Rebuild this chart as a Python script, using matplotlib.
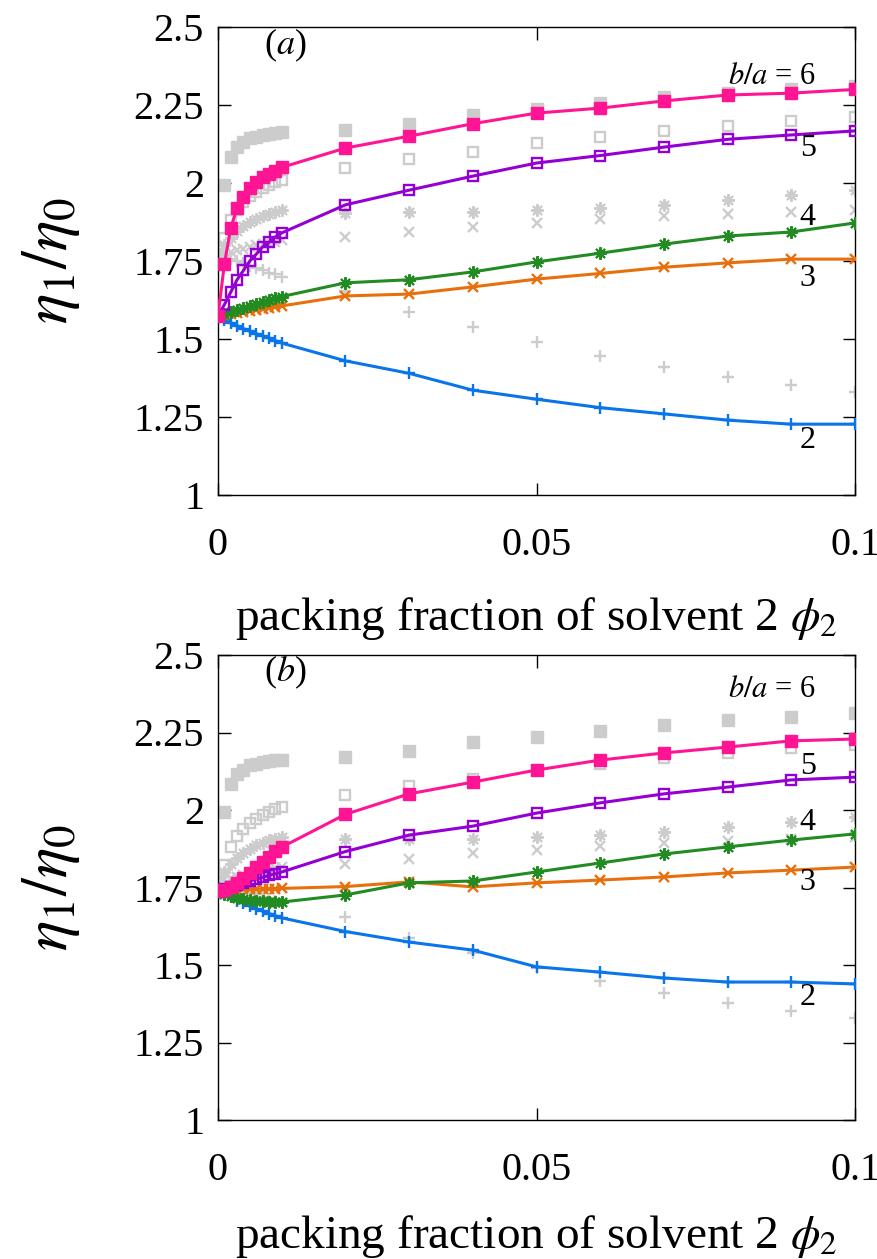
import matplotlib
matplotlib.use("Agg")
import matplotlib.pyplot as plt

plt.rcParams["font.family"] = ["Liberation Serif", "DejaVu Serif"]
plt.rcParams["mathtext.fontset"] = "stix"

# packing fractions of solvent 2
phi2 = [0, 0.001, 0.002, 0.003, 0.004, 0.005, 0.006, 0.007, 0.008, 0.009, 0.01,
        0.02, 0.03, 0.04, 0.05, 0.06, 0.07, 0.08, 0.09, 0.1]
ratios = ["2", "3", "4", "5", "6"]

# reference curves (grey, shown in both panels)
ref_2 = [1.77, 1.765, 1.757, 1.75, 1.742, 1.735, 1.728, 1.72, 1.713, 1.707, 1.70,
         1.655, 1.587, 1.538, 1.49, 1.447, 1.41, 1.378, 1.353, 1.33]
ref_3 = [1.77, 1.775, 1.78, 1.785, 1.79, 1.795, 1.80, 1.804, 1.808, 1.812, 1.816,
         1.827, 1.843, 1.86, 1.872, 1.885, 1.894, 1.90, 1.907, 1.913]
ref_4 = [1.77, 1.80, 1.825, 1.845, 1.862, 1.875, 1.886, 1.895, 1.902, 1.908, 1.913,
         1.905, 1.907, 1.907, 1.913, 1.92, 1.93, 1.945, 1.96, 1.977]
ref_5 = [1.77, 1.824, 1.88, 1.915, 1.94, 1.958, 1.972, 1.984, 1.994, 2.002, 2.01,
         2.048, 2.077, 2.10, 2.128, 2.147, 2.167, 2.183, 2.199, 2.21]
ref_6 = [1.77, 1.994, 2.083, 2.115, 2.13, 2.144, 2.147, 2.154, 2.157, 2.16, 2.162,
         2.17, 2.19, 2.218, 2.237, 2.256, 2.275, 2.29, 2.30, 2.312]

# panel (a)
a_2 = [1.575, 1.56, 1.552, 1.543, 1.533, 1.525, 1.517, 1.51, 1.503, 1.495, 1.487,
       1.43, 1.39, 1.336, 1.307, 1.28, 1.26, 1.24, 1.227, 1.227]
a_3 = [1.575, 1.578, 1.581, 1.584, 1.587, 1.591, 1.594, 1.597, 1.6, 1.603, 1.606,
       1.638, 1.644, 1.667, 1.692, 1.71, 1.73, 1.744, 1.756, 1.756]
a_4 = [1.575, 1.58, 1.585, 1.592, 1.598, 1.605, 1.612, 1.618, 1.624, 1.63, 1.636,
       1.68, 1.69, 1.715, 1.747, 1.775, 1.804, 1.83, 1.843, 1.872]
a_5 = [1.575, 1.61, 1.65, 1.69, 1.72, 1.75, 1.772, 1.795, 1.81, 1.827, 1.84,
       1.93, 1.977, 2.022, 2.064, 2.088, 2.115, 2.14, 2.154, 2.167]
a_6 = [1.575, 1.74, 1.856, 1.92, 1.955, 1.984, 2.003, 2.02, 2.03, 2.04, 2.05,
       2.112, 2.15, 2.19, 2.224, 2.24, 2.263, 2.282, 2.288, 2.30]

# panel (b)
b_2 = [1.74, 1.728, 1.718, 1.708, 1.699, 1.69, 1.682, 1.674, 1.666, 1.659, 1.652,
       1.608, 1.574, 1.548, 1.494, 1.477, 1.458, 1.445, 1.445, 1.439]
b_3 = [1.74, 1.742, 1.743, 1.743, 1.744, 1.744, 1.745, 1.745, 1.746, 1.746, 1.747,
       1.753, 1.768, 1.752, 1.765, 1.774, 1.784, 1.797, 1.806, 1.816]
b_4 = [1.74, 1.73, 1.722, 1.716, 1.712, 1.709, 1.707, 1.705, 1.704, 1.703, 1.703,
       1.726, 1.765, 1.771, 1.80, 1.829, 1.858, 1.881, 1.903, 1.923]
b_5 = [1.74, 1.745, 1.752, 1.758, 1.765, 1.771, 1.777, 1.783, 1.789, 1.794, 1.80,
       1.866, 1.919, 1.948, 1.99, 2.023, 2.052, 2.074, 2.097, 2.106]
b_6 = [1.74, 1.743, 1.752, 1.766, 1.782, 1.798, 1.815, 1.832, 1.85, 1.867, 1.88,
       1.986, 2.052, 2.09, 2.129, 2.161, 2.184, 2.203, 2.223, 2.229]

yticks = [1, 1.25, 1.5, 1.75, 2, 2.25, 2.5]
ytick_labels = ["1", "1.25", "1.5", "1.75", "2", "2.25", "2.5"]
xticks = [0, 0.05, 0.1]
xtick_labels = ["0", "0.05", "0.1"]

colors = ["#0a74ea", "#e8700c", "#228b22", "#9400d3", "#ff1493"]
grey = "#cccccc"
asterisk = (8, 2, 0)
styles = [
    dict(marker="+", ms=9, mew=1.7, mfc="none"),
    dict(marker="x", ms=7, mew=1.7, mfc="none"),
    dict(marker=asterisk, ms=9, mew=1.5, mfc="none"),
    dict(marker="s", ms=7.5, mew=1.7, mfc="none"),
    dict(marker="s", ms=9, mew=1.0),
]

fig = plt.figure(figsize=(8.78, 12.59), dpi=100)
ax_a = fig.add_axes([218 / 878, 1 - 495 / 1259, 637 / 878, 468 / 1259])
ax_b = fig.add_axes([218 / 878, 1 - 1120 / 1259, 637 / 878, 465 / 1259])

refs = [ref_2, ref_3, ref_4, ref_5, ref_6]
panels = [
    (ax_a, [a_2, a_3, a_4, a_5, a_6], "($a$)", 468, 100,
     {"6": 2.34, "5": 2.112, "4": 1.89, "3": 1.695, "2": 1.176}),
    (ax_b, [b_2, b_3, b_4, b_5, b_6], "($b$)", 465, 93,
     {"6": 2.39, "5": 2.139, "4": 1.961, "3": 1.765, "2": 1.394}),
]

for ax, series, tag, h_px, xlab_off, label_y in panels:
    for ref, st in zip(refs, styles):
        kw = dict(st)
        kw["mec"] = grey
        if kw.get("mfc") != "none":
            kw["mfc"] = grey
        ax.plot(phi2, ref, ls="none", zorder=2, **kw)
    for vals, st, c in zip(series, styles, colors):
        kw = dict(st)
        kw["mec"] = c
        if kw.get("mfc") != "none":
            kw["mfc"] = c
        ax.plot(phi2, vals, color=c, lw=2.2, zorder=3, **kw)

    ax.set_xlim(0, 0.1)
    ax.set_ylim(1, 2.5)
    ax.set_xticks(xticks)
    ax.set_xticklabels(xtick_labels)
    ax.set_yticks(yticks)
    ax.set_yticklabels(ytick_labels)
    ax.tick_params(direction="in", length=9, width=1.0, top=True, right=True,
                   labelsize=29)
    ax.tick_params(axis="x", pad=23)
    ax.tick_params(axis="y", pad=10)
    for sp in ax.spines.values():
        sp.set_linewidth(1.0)
    ax.set_xlabel("packing fraction of solvent 2 $\\phi_2$", fontsize=34)
    ax.xaxis.set_label_coords(0.5, -xlab_off / h_px)
    ax.set_ylabel("$\\eta_1/\\eta_0$", fontsize=46)
    ax.yaxis.set_label_coords(-136 / 637, 0.5)

    ax.text(0.0105, 2.44 if tag == "($a$)" else 2.445, tag, fontsize=26,
            ha="center", va="center")
    ax.text(0.0870, label_y["6"], "$b/a$ = 6", fontsize=22, ha="center", va="center")
    for r in ["5", "4", "3", "2"]:
        ax.text(0.0926, label_y[r], r, fontsize=23, ha="center", va="center")

fig.savefig("out.png", dpi=100)
